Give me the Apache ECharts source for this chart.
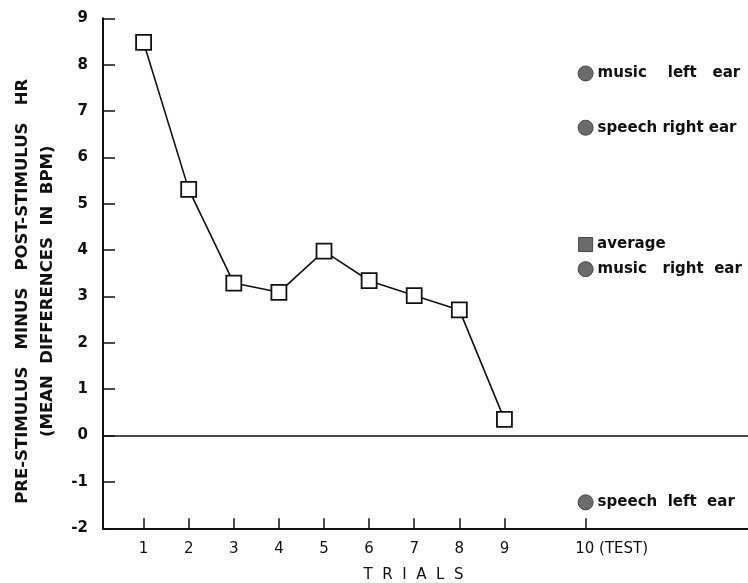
<!DOCTYPE html>
<html>
<head>
<meta charset="utf-8">
<script src="https://cdn.jsdelivr.net/npm/echarts@6/dist/echarts.min.js"></script>
<style>
html,body{margin:0;padding:0;background:#fff;}
#chart{width:748px;height:583px;}
</style>
</head>
<body>
<div id="chart"></div>
<script>
// ---- data ----
const trials = [1, 2, 3, 4, 5, 6, 7, 8, 9];
const avgHR = [8.48, 5.31, 3.29, 3.09, 3.98, 3.34, 3.02, 2.71, 0.35];
const testTrial = 10.8; // position of the "10 (TEST)" tick on the trial axis
const testNames = ['music    left   ear', 'speech right ear', 'average', 'music   right  ear', 'speech  left  ear'];
const testValues = [7.81, 6.64, 4.12, 3.59, -1.44];
const testShapes = ['circle', 'circle', 'rect', 'circle', 'circle'];
const xTickPositions = [1, 2, 3, 4, 5, 6, 7, 8, 9, 10.8];
const xTickLabels = ['1', '2', '3', '4', '5', '6', '7', '8', '9', '10 (TEST)'];
const yMin = -2, yMax = 9, yStep = 1;

const font = 'DejaVu Sans';
const chart = echarts.init(document.getElementById('chart'), null, {renderer: 'canvas'});

const lineData = trials.map((t, i) => [t, avgHR[i]]);
const testData = testValues.map((v, i) => ({
  name: testNames[i],
  value: [testTrial, v],
  symbol: testShapes[i],
  symbolSize: testShapes[i] === 'rect' ? 14 : 15
}));

chart.setOption({
  animation: false,
  backgroundColor: '#fff',
  grid: {left: 103, right: 0, top: 18.3, bottom: 54.7, outerBoundsMode: 'none', containLabel: false},
  xAxis: {
    type: 'value',
    min: 0.1,
    max: 14.4,
    name: 'T  R  I  A  L  S',
    nameLocation: 'middle',
    nameGap: 39,
    nameTextStyle: {fontFamily: font, fontSize: 15, color: '#111', padding: [0, 24, 0, 0]},
    axisLine: {show: true, onZero: false, lineStyle: {color: '#111', width: 2}},
    axisTick: {show: true, inside: true, length: 10, lineStyle: {color: '#111', width: 1.5},
      customValues: xTickPositions},
    axisLabel: {
      customValues: xTickPositions,
      margin: 13,
      fontFamily: font, fontSize: 15, color: '#111',
      formatter: function (v) {
        const i = xTickPositions.findIndex(p => Math.abs(p - v) < 1e-6);
        const s = i >= 0 ? xTickLabels[i] : '';
        return i === xTickPositions.length - 1 ? '{t|' + s + '}' : s;
      },
      rich: {t: {fontFamily: font, fontSize: 15, color: '#111', padding: [0, 0, 0, 52]}}
    },
    splitLine: {show: false}
  },
  yAxis: {
    type: 'value',
    min: yMin,
    max: yMax,
    interval: yStep,
    name: 'PRE-STIMULUS   MINUS   POST-STIMULUS   HR\n(MEAN  DIFFERENCES  IN  BPM)',
    nameLocation: 'middle',
    nameRotate: 90,
    nameGap: 42,
    nameTextStyle: {fontFamily: font, fontSize: 16.5, fontWeight: 'bold', color: '#111',
      lineHeight: 25, padding: [0, 36, 0, 0]},
    axisLine: {show: true, lineStyle: {color: '#111', width: 2}},
    axisTick: {show: true, inside: true, length: 12, lineStyle: {color: '#111', width: 1.5}},
    axisLabel: {margin: 15, fontFamily: font, fontSize: 15, fontWeight: 'bold', color: '#111'},
    splitLine: {show: false}
  },
  series: [
    {
      type: 'line',
      data: lineData,
      symbol: 'rect',
      symbolSize: 15,
      showAllSymbol: true,
      itemStyle: {color: '#fff', borderColor: '#111', borderWidth: 1.8},
      lineStyle: {color: '#111', width: 1.6},
      z: 3,
      markLine: {
        silent: true,
        symbol: 'none',
        label: {show: false},
        lineStyle: {color: '#111', width: 1.6, type: 'solid'},
        data: [{yAxis: 0}]
      }
    },
    {
      type: 'scatter',
      data: testData,
      itemStyle: {color: '#6b6b6b', borderColor: '#444', borderWidth: 1, opacity: 1},
      label: {
        show: true, position: 'right', distance: 4,
        formatter: '{b}', opacity: 1,
        fontFamily: font, fontSize: 15, fontWeight: 'bold', color: '#111'
      },
      z: 4
    }
  ]
});
</script>
</body>
</html>
